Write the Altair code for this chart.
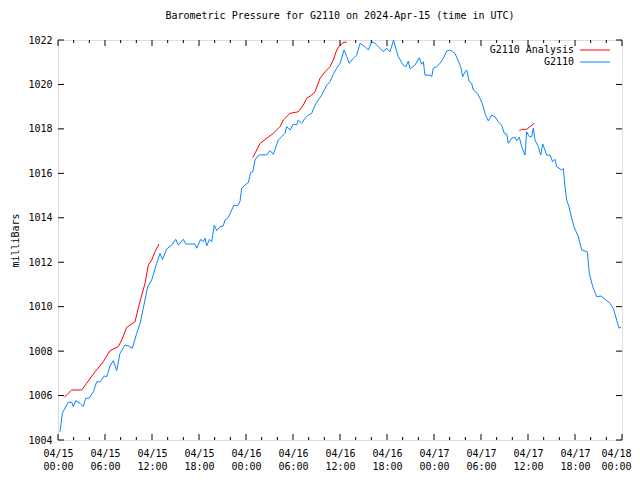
import altair as alt
import pandas as pd

# hours since 2024-04-15 00:00 UTC
g2110_hours = [0.26, 0.55, 0.89, 1.31, 1.75, 1.95, 2.26, 2.81, 3.23, 3.54, 3.96, 4.51, 4.94, 5.36, 5.91, 6.22,
    6.64, 7.06, 7.49, 7.91, 8.55, 8.97, 9.49, 10.05, 10.47, 10.89, 11.45, 11.96, 12.60, 13.02, 13.34, 13.88,
    14.52, 15.03, 15.36, 16.00, 16.34, 17.49, 17.71, 18.22, 18.55, 18.77, 18.98, 19.32, 19.62, 19.95, 20.26,
    20.68, 21.10, 21.32, 21.74, 22.17, 22.47, 22.89, 23.23, 23.45, 23.87, 24.29, 24.60, 24.86, 25.15, 25.44,
    25.79, 26.64, 27.06, 27.49, 28.12, 28.56, 28.98, 29.20, 29.62, 30.04, 30.47, 30.68, 31.11, 31.53, 31.95,
    32.39, 32.81, 33.23, 33.66, 34.30, 34.72, 35.14, 35.58, 36.00, 36.22, 36.51, 36.86, 37.19, 37.70, 38.13,
    38.55, 39.19, 39.61, 40.05, 40.47, 41.11, 41.53, 41.96, 42.38, 42.83, 43.44, 44.08, 44.43, 44.72, 44.94,
    45.57, 46.12, 46.43, 46.64, 46.85, 47.49, 47.71, 47.91, 48.34, 48.77, 49.19, 49.62, 50.04, 50.68, 51.10,
    51.41, 51.66, 51.96, 52.17, 52.51, 52.81, 53.02, 53.53, 53.87, 54.22, 54.51, 54.93, 55.36, 55.79, 56.21,
    56.64, 56.97, 57.28, 57.49, 57.92, 58.34, 58.56, 58.89, 59.20, 59.62, 59.83, 60.17, 60.47, 60.68, 60.89,
    61.32, 61.62, 61.88, 62.39, 62.81, 63.15, 63.45, 63.66, 64.30, 64.51, 64.72, 64.94, 65.23, 65.58, 65.87,
    66.42, 66.86, 67.57, 67.83, 68.26, 68.77, 69.32, 69.96, 70.47, 70.89, 71.32, 71.62, 71.87]
g2110_mb = [1004.37, 1005.20, 1005.44, 1005.70, 1005.70, 1005.50, 1005.77, 1005.65, 1005.50, 1005.88, 1005.88,
    1006.17, 1006.62, 1006.62, 1006.88, 1006.85, 1007.33, 1007.57, 1007.12, 1007.90, 1008.27, 1008.23, 1008.13,
    1008.80, 1009.25, 1009.93, 1010.90, 1011.20, 1011.95, 1012.40, 1012.12, 1012.60, 1012.77, 1013.03, 1012.77,
    1013.03, 1012.82, 1012.82, 1012.63, 1013.03, 1012.92, 1013.08, 1012.73, 1013.03, 1012.92, 1013.67, 1013.42,
    1013.60, 1013.63, 1013.90, 1014.02, 1014.35, 1014.57, 1014.53, 1014.72, 1015.33, 1015.47, 1015.58, 1016.03,
    1016.07, 1016.60, 1016.75, 1016.83, 1016.83, 1017.02, 1016.86, 1017.50, 1017.65, 1017.80, 1018.10, 1017.95,
    1018.21, 1018.18, 1018.40, 1018.25, 1018.48, 1018.62, 1018.70, 1019.07, 1019.30, 1019.52, 1019.97, 1020.12,
    1020.46, 1020.73, 1020.95, 1021.18, 1021.55, 1021.25, 1020.95, 1021.18, 1021.32, 1021.85, 1021.70, 1021.55,
    1021.92, 1021.85, 1021.63, 1021.47, 1021.63, 1021.47, 1022.00, 1021.25, 1020.87, 1020.80, 1021.05, 1020.70,
    1020.87, 1021.20, 1020.91, 1021.02, 1020.42, 1020.42, 1020.35, 1020.73, 1020.80, 1020.95, 1021.18, 1021.50,
    1021.55, 1021.40, 1021.05, 1020.80, 1020.35, 1020.57, 1020.65, 1020.12, 1020.05, 1019.75, 1019.60, 1019.38,
    1019.08, 1018.70, 1018.36, 1018.62, 1018.55, 1018.32, 1018.17, 1017.80, 1017.77, 1017.35, 1017.58, 1017.62,
    1017.47, 1017.62, 1017.20, 1016.82, 1017.87, 1017.65, 1017.65, 1018.03, 1017.50, 1017.20, 1016.82, 1017.32,
    1016.82, 1016.82, 1016.52, 1016.63, 1016.30, 1016.15, 1016.22, 1015.40, 1014.80, 1014.50, 1013.98, 1013.60,
    1013.15, 1012.55, 1012.47, 1011.50, 1010.90, 1010.45, 1010.48, 1010.30, 1010.15, 1009.93, 1009.40, 1009.03,
    1009.08]

analysis1_hours = [0.80, 1.31, 1.75, 3.03, 3.66, 4.72, 5.78, 6.64, 7.70, 8.13, 8.77, 9.83, 10.25, 10.69, 11.11,
    11.53, 11.96, 12.38, 12.89]
analysis1_mb = [1005.92, 1006.10, 1006.25, 1006.25, 1006.55, 1007.07, 1007.52, 1008.02, 1008.20, 1008.50,
    1009.07, 1009.32, 1009.93, 1010.52, 1011.05, 1011.88, 1012.10, 1012.47, 1012.82]
analysis2_hours = [24.86, 25.37, 25.79, 26.64, 27.49, 28.34, 28.76, 29.62, 30.68, 31.31, 31.75, 32.39, 32.81,
    33.45, 34.09, 34.72, 35.14, 35.58, 36.00, 36.51, 36.86]
analysis2_mb = [1016.71, 1017.05, 1017.34, 1017.58, 1017.80, 1018.10, 1018.40, 1018.70, 1018.77, 1019.07,
    1019.38, 1019.52, 1019.67, 1020.28, 1020.57, 1020.80, 1021.10, 1021.55, 1021.77, 1021.90, 1021.90]
analysis3_hours = [58.89, 59.20, 59.83, 60.26, 60.77]
analysis3_mb = [1017.92, 1017.98, 1017.98, 1018.10, 1018.25]

x_major = [0, 6, 12, 18, 24, 30, 36, 42, 48, 54, 60, 66, 72]
x_minor = [2, 4, 8, 10, 14, 16, 20, 22, 26, 28, 32, 34, 38, 40, 44, 46, 50, 52, 56, 58, 62, 64, 68, 70]
y_major = [1004, 1006, 1008, 1010, 1012, 1014, 1016, 1018, 1020, 1022]

series_names = ["G2110 Analysis", "G2110"]
series_colors = ["#ff0000", "#0a84ff"]

FONT = "DejaVu Sans Mono"
W, H = 564, 400

rows = []
for h, v in zip(g2110_hours, g2110_mb):
    rows.append({"hour": h, "mb": v, "series": "G2110", "seg": "b"})
for k, (hs, vs) in enumerate([(analysis1_hours, analysis1_mb), (analysis2_hours, analysis2_mb),
                               (analysis3_hours, analysis3_mb)]):
    for h, v in zip(hs, vs):
        rows.append({"hour": h, "mb": v, "series": "G2110 Analysis", "seg": f"a{k}"})
df = pd.DataFrame(rows)

xscale = alt.Scale(domain=[0, 72], nice=False, zero=False)
yscale = alt.Scale(domain=[1004, 1022], nice=False, zero=False)

label_expr = ("['04/' + (15 + floor(datum.value / 24)), "
              "(datum.value % 24 < 10 ? '0' : '') + (datum.value % 24) + ':00']")

xaxis = alt.Axis(values=x_major, labelExpr=label_expr, ticks=False, domain=False, grid=False,
                 title=None, labelFont=FONT, labelFontSize=10, labelColor="black",
                 labelPadding=8, labelLineHeight=13, labelFlush=False, labelOverlap=False,
                 labelBound=False,
                 labelOffset={"condition": {"test": "datum.value == 72", "value": -6}, "value": 0})
yaxis = alt.Axis(values=y_major, ticks=False, domain=False, grid=False, title="milliBars", format="d",
                 labelFont=FONT, labelFontSize=10, labelColor="black", labelPadding=6,
                 titleFont=FONT, titleFontSize=10, titleFontWeight="normal", titleColor="black",
                 titlePadding=7, labelFlush=False)

def X():
    return alt.X("hour:Q", scale=xscale, axis=xaxis)

def Y():
    return alt.Y("mb:Q", scale=yscale, axis=yaxis)

lines = alt.Chart(df).mark_line(strokeWidth=1, clip=True, interpolate="linear").encode(
    x=X(), y=Y(),
    color=alt.Color("series:N", scale=alt.Scale(domain=series_names, range=series_colors), legend=None),
    detail="seg:N",
)

xmaj = pd.DataFrame({"hour": x_major})
xmin = pd.DataFrame({"hour": x_minor})
ymaj = pd.DataFrame({"mb": y_major})

def xticks(d, y0, y1):
    return alt.Chart(d).mark_rule(color="black", strokeWidth=1).encode(
        x=X(), y=alt.value(y0), y2=alt.value(y1))

def yticks(x0, x1):
    return alt.Chart(ymaj).mark_rule(color="black", strokeWidth=1).encode(
        y=Y(), x=alt.value(x0), x2=alt.value(x1))

ticks = [xticks(xmaj, H, H - 6), xticks(xmin, H, H - 3), xticks(xmaj, 0, 6), xticks(xmin, 0, 3),
         yticks(0, 6), yticks(W, W - 6)]

legend_layers = []
for i, (name, col) in enumerate(zip(series_names, series_colors)):
    d = pd.DataFrame({"label": [name]})
    yy = 10 + 12 * i
    legend_layers.append(alt.Chart(d).mark_text(align="right", baseline="middle", font=FONT, fontSize=10,
                                                color="black").encode(
        text="label:N", x=alt.value(516), y=alt.value(yy)))
    legend_layers.append(alt.Chart(d).mark_rule(color=col, strokeWidth=1).encode(
        x=alt.value(522), x2=alt.value(552), y=alt.value(yy)))

chart = alt.layer(lines, *ticks, *legend_layers).properties(
    width=W, height=H,
    title=alt.TitleParams("Barometric Pressure for G2110 on 2024-Apr-15 (time in UTC)", font=FONT,
                          fontSize=10, fontWeight="normal", color="black", anchor="middle", offset=14),
    autosize=alt.AutoSizeParams(type="none"),
    padding={"left": 50, "top": 32, "right": 10, "bottom": 32},
).configure_view(stroke="black", strokeWidth=1).configure(background="white")

chart.save("out.html", embed_options={"renderer": "svg", "actions": False})
